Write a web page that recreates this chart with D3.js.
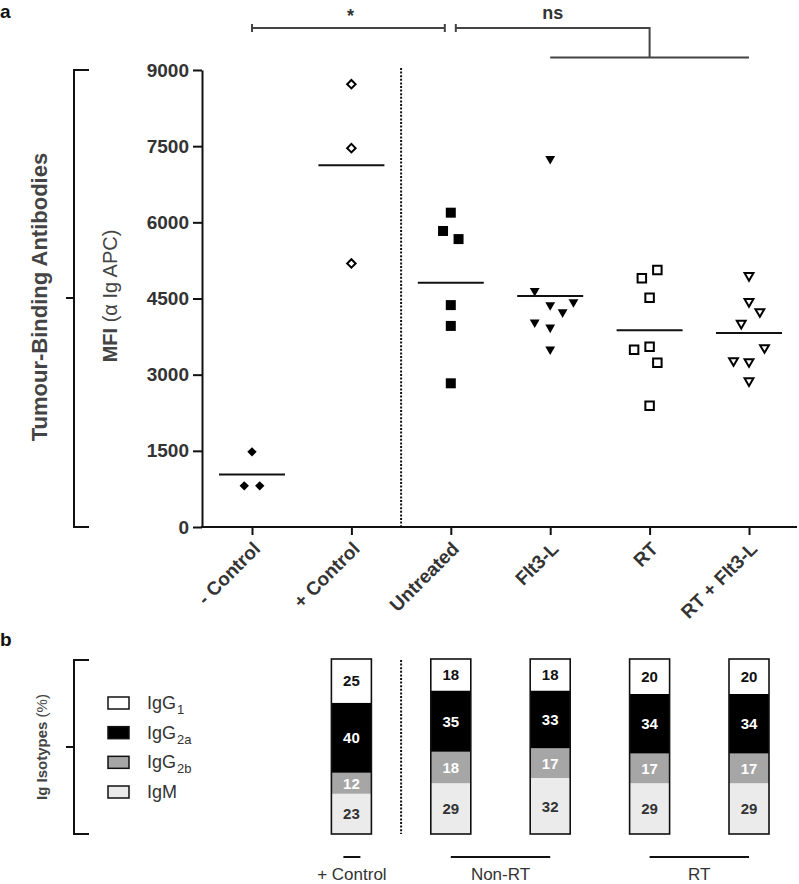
<!DOCTYPE html>
<html>
<head>
<meta charset="utf-8">
<script src="https://cdn.jsdelivr.net/npm/d3@7"></script>
<style>
  html, body { margin: 0; padding: 0; background: #fff; }
  svg { display: block; font-family: "Liberation Sans", Arial, Helvetica, sans-serif; }
</style>
</head>
<body>
<svg id="chart" width="799" height="884"></svg>
<script>
// ---------------- DATA ----------------
const categories = ["- Control", "+ Control", "Untreated", "Flt3-L", "RT", "RT + Flt3-L"];
const yTicks = [0, 1500, 3000, 4500, 6000, 7500, 9000];

// MFI values per group (α Ig APC); slots = column position of each point in the scatter
const negControl = [1480, 810, 810];
const negControlSlots = [0, -1, 1];
const posControl = [8720, 7460, 5190];
const posControlSlots = [0, 0, 0];
const untreated = [6190, 5830, 5670, 4370, 3960, 2830];
const untreatedSlots = [0, -1, 1, 0, 0, 0];
const flt3l = [7250, 4650, 4430, 4370, 4230, 4030, 3930, 3500];
const flt3lSlots = [0, -2, 3, 0, 1.6, -2, 0, 0];
const rt = [4900, 5060, 4515, 3490, 3550, 3235, 2390];
const rtSlots = [-1, 1, 0, -2, 0, 1, 0];
const rtFlt3l = [4950, 4440, 4240, 4010, 3530, 3275, 3255, 2880];
const rtFlt3lSlots = [0, 0, 1.4, -1, 2, -2, 0, 0];

// Panel b: Ig isotype percentages
const isoCategories = ["+ Control", "Untreated", "Flt3-L", "RT", "RT + Flt3-L"];
const isoKeys = ["IgG1", "IgG2a", "IgG2b", "IgM"];
const igG1 = [25, 18, 18, 20, 20];
const igG2a = [40, 35, 33, 34, 34];
const igG2b = [12, 18, 17, 17, 17];
const igM = [23, 29, 32, 29, 29];

// ---------------- SETUP ----------------
const svg = d3.select("#chart");
const TXT = "#333";
const x = d3.scalePoint().domain(categories).range([252, 749]);
const y = d3.scaleLinear().domain([0, 9000]).range([527, 70]);
const slotW = 7.75;

// Panel labels
svg.append("text").attr("x", 0).attr("y", 18).attr("font-size", 19).attr("font-weight", "bold").attr("fill", "#111").text("a");
svg.append("text").attr("x", 0).attr("y", 646).attr("font-size", 19).attr("font-weight", "bold").attr("fill", "#111").text("b");

// Left bracket
function bracket(x0, y0, y1, ym) {
  const g = svg.append("g").attr("stroke", "#111").attr("stroke-width", 2).attr("fill", "none");
  g.append("path").attr("d", `M${x0 + 15},${y0}H${x0}V${y1}H${x0 + 15}`);
  g.append("path").attr("d", `M${x0 - 8},${ym}H${x0}`);
}
bracket(74, 70, 527, 298);

svg.append("text")
  .attr("transform", "translate(47,297) rotate(-90)")
  .attr("text-anchor", "middle").attr("font-size", 22).attr("font-weight", "bold").attr("fill", "#444")
  .text("Tumour-Binding Antibodies");

const mfi = svg.append("text")
  .attr("transform", "translate(117,296) rotate(-90)")
  .attr("text-anchor", "middle").attr("font-size", 20).attr("fill", "#444");
mfi.append("tspan").attr("font-weight", "bold").text("MFI");
mfi.append("tspan").text(" (α Ig APC)");

// Y axis
const yAxis = svg.append("g").attr("transform", "translate(202,0)")
  .call(d3.axisLeft(y).tickValues(yTicks).tickFormat(d3.format("d")).tickSize(9).tickSizeOuter(0).tickPadding(4));
yAxis.select(".domain").attr("stroke", "#111").attr("stroke-width", 2);
yAxis.selectAll(".tick line").attr("stroke", "#111").attr("stroke-width", 2);
yAxis.selectAll(".tick text").attr("font-size", 19).attr("font-weight", "bold").attr("fill", TXT)
  .attr("font-family", "'Liberation Sans', Arial, sans-serif");

// X axis
const xAxis = svg.append("g").attr("transform", "translate(0,527)")
  .call(d3.axisBottom(x).tickSize(8).tickSizeOuter(0));
xAxis.select(".domain").remove();
xAxis.append("path").attr("d", "M201,0H797").attr("stroke", "#111").attr("stroke-width", 2);
xAxis.selectAll(".tick line").attr("stroke", "#111").attr("stroke-width", 2);
xAxis.selectAll(".tick text")
  .attr("font-size", 19).attr("font-weight", "bold").attr("fill", TXT)
  .attr("font-family", "'Liberation Sans', Arial, sans-serif")
  .attr("text-anchor", "end").attr("dy", null).attr("y", null)
  .attr("transform", "translate(9,23) rotate(-45)");

// Dotted separator
const sepX = (x("+ Control") + x("Untreated")) / 2;
svg.append("line").attr("x1", sepX).attr("x2", sepX).attr("y1", 68).attr("y2", 526)
  .attr("stroke", "#111").attr("stroke-width", 2).attr("stroke-dasharray", "2,1.6");

// Markers
const groups = [
  { cat: "- Control", vals: negControl, slots: negControlSlots, shape: "diamond", filled: true },
  { cat: "+ Control", vals: posControl, slots: posControlSlots, shape: "diamond", filled: false },
  { cat: "Untreated", vals: untreated, slots: untreatedSlots, shape: "square", filled: true },
  { cat: "Flt3-L", vals: flt3l, slots: flt3lSlots, shape: "triangle", filled: true },
  { cat: "RT", vals: rt, slots: rtSlots, shape: "square", filled: false },
  { cat: "RT + Flt3-L", vals: rtFlt3l, slots: rtFlt3lSlots, shape: "triangle", filled: false }
];

function symbolPath(shape, filled) {
  if (shape === "diamond") return d3.symbol().type(d3.symbolSquare).size(filled ? 44 : 36)();
  if (shape === "square") return d3.symbol().type(d3.symbolSquare).size(filled ? 100 : 72)();
  return d3.symbol().type(d3.symbolTriangle).size(filled ? 42 : 34)();
}
function rotation(shape) {
  if (shape === "diamond") return 45;
  if (shape === "triangle") return 180;
  return 0;
}

groups.forEach(gr => {
  const g = svg.append("g");
  g.selectAll("path.pt").data(gr.vals).join("path")
    .attr("class", "pt")
    .attr("d", symbolPath(gr.shape, gr.filled))
    .attr("transform", (d, i) => `translate(${x(gr.cat) + gr.slots[i] * slotW},${y(d)}) rotate(${rotation(gr.shape)})`)
    .attr("fill", gr.filled ? "#000" : "#fff")
    .attr("stroke", "#000")
    .attr("stroke-width", gr.filled ? 0 : 2)
    .attr("stroke-linejoin", "miter");
  const m = d3.mean(gr.vals);
  g.append("line").attr("x1", x(gr.cat) - 33).attr("x2", x(gr.cat) + 33)
    .attr("y1", y(m)).attr("y2", y(m)).attr("stroke", "#111").attr("stroke-width", 2);
});

// Significance brackets
const sig = svg.append("g").attr("stroke", "#444").attr("stroke-width", 2).attr("fill", "none");
const sy = 28, sy2 = 57.5;
const xa = x("- Control"), xb = x("Untreated") - 6, xc = x("Untreated") + 5;
sig.append("path").attr("d", `M${xa},${sy}H${xb}M${xa},${sy - 4}V${sy + 4}M${xb},${sy - 4}V${sy + 4}`);
sig.append("path").attr("d", `M${xc},${sy - 4}V${sy + 4}M${xc},${sy}H${x("RT")}V${sy2}M${x("Flt3-L")},${sy2}H${x("RT + Flt3-L")}`);
svg.append("text").attr("x", (xa + xb) / 2 + 2).attr("y", 22).attr("text-anchor", "middle")
  .attr("font-size", 18).attr("font-weight", "bold").attr("fill", TXT).text("*");
svg.append("text").attr("x", (xc + x("RT")) / 2).attr("y", 19).attr("text-anchor", "middle")
  .attr("font-size", 18).attr("font-weight", "bold").attr("fill", TXT).text("ns");

// ---------------- PANEL b ----------------
bracket(74, 660, 834, 747);
const iso = svg.append("text")
  .attr("transform", "translate(47,747) rotate(-90)")
  .attr("text-anchor", "middle").attr("font-size", 15).attr("fill", "#444");
iso.append("tspan").attr("font-weight", "bold").text("Ig Isotypes");
iso.append("tspan").text(" (%)");

const isoColors = { IgG1: "#ffffff", IgG2a: "#000000", IgG2b: "#a6a6a6", IgM: "#ebebeb" };
const isoLabelColors = { IgG1: "#111", IgG2a: "#fff", IgG2b: "#fff", IgM: "#333" };
const isoLegendSub = { IgG1: "1", IgG2a: "2a", IgG2b: "2b", IgM: "" };

// Legend
const legY = d3.scalePoint().domain(isoKeys).range([703, 792]);
const leg = svg.append("g");
isoKeys.forEach(k => {
  leg.append("rect").attr("x", 108).attr("y", legY(k) - 6).attr("width", 21).attr("height", 12)
    .attr("fill", isoColors[k]).attr("stroke", "#111").attr("stroke-width", 1.5);
  const t = leg.append("text").attr("x", 147).attr("y", legY(k) + 6).attr("font-size", 18).attr("fill", TXT);
  if (k === "IgM") { t.text("IgM"); }
  else {
    t.append("tspan").text("IgG");
    t.append("tspan").attr("font-size", 13).attr("dy", 5).attr("dx", 1).text(isoLegendSub[k]);
  }
});

// Stacked bars
const isoRows = isoCategories.map((c, i) => ({ cat: c, IgG1: igG1[i], IgG2a: igG2a[i], IgG2b: igG2b[i], IgM: igM[i] }));
const stack = d3.stack().keys(["IgM", "IgG2b", "IgG2a", "IgG1"]);
const series = stack(isoRows);
const yp = d3.scaleLinear().domain([0, 100]).range([834, 659]);
const barW = 40;
series.forEach(s => {
  const g = svg.append("g");
  g.selectAll("rect").data(s).join("rect")
    .attr("x", d => x(d.data.cat) - barW / 2)
    .attr("y", d => yp(d[1]))
    .attr("width", barW)
    .attr("height", d => yp(d[0]) - yp(d[1]))
    .attr("fill", isoColors[s.key]);
  g.selectAll("text").data(s).join("text")
    .attr("x", d => x(d.data.cat))
    .attr("y", d => (yp(d[0]) + yp(d[1])) / 2 + 5.5)
    .attr("text-anchor", "middle").attr("font-size", 15).attr("font-weight", "bold")
    .attr("fill", isoLabelColors[s.key])
    .text(d => d.data[s.key]);
});
svg.append("g").selectAll("rect").data(isoRows).join("rect")
  .attr("x", d => x(d.cat) - barW / 2).attr("y", yp(100))
  .attr("width", barW).attr("height", yp(0) - yp(100))
  .attr("fill", "none").attr("stroke", "#111").attr("stroke-width", 1.6);

// Separator panel b
svg.append("line").attr("x1", sepX).attr("x2", sepX).attr("y1", 660).attr("y2", 834)
  .attr("stroke", "#111").attr("stroke-width", 2).attr("stroke-dasharray", "2,1.6");

// Group underlines
const grpLines = [
  { label: "+ Control", x0: x("+ Control") - 8, x1: x("+ Control") + 9 },
  { label: "Non-RT", x0: x("Untreated"), x1: x("Flt3-L") },
  { label: "RT", x0: x("RT"), x1: x("RT + Flt3-L") }
];
grpLines.forEach(gl => {
  svg.append("line").attr("x1", gl.x0).attr("x2", gl.x1).attr("y1", 857).attr("y2", 857)
    .attr("stroke", "#111").attr("stroke-width", 2);
  svg.append("text").attr("x", (gl.x0 + gl.x1) / 2).attr("y", 880).attr("text-anchor", "middle")
    .attr("font-size", 17).attr("fill", TXT).text(gl.label);
});
</script>
</body>
</html>
